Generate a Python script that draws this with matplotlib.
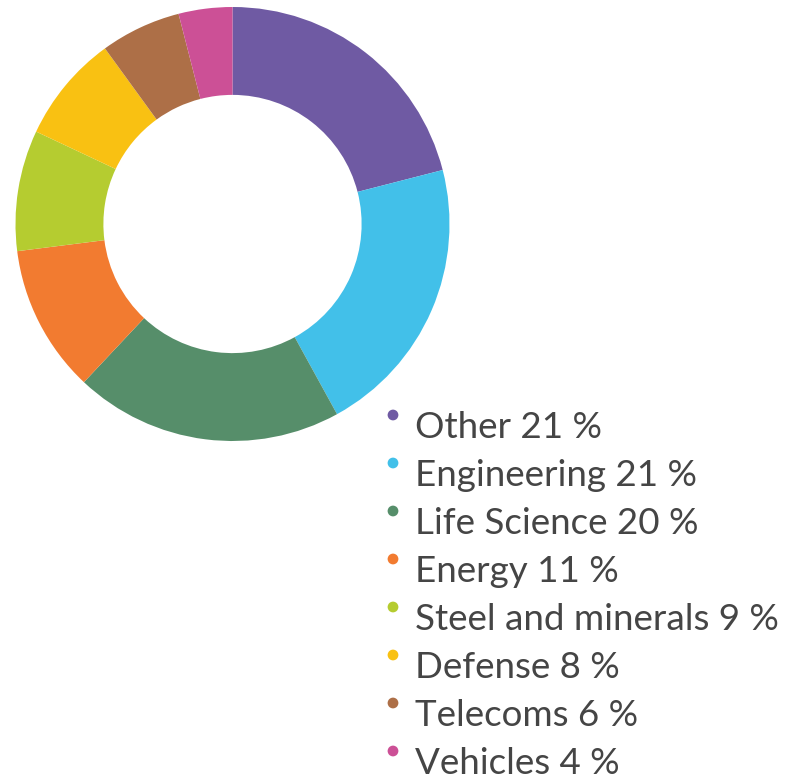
import matplotlib
matplotlib.use("Agg")
import matplotlib.pyplot as plt

categories = ["Other", "Engineering", "Life Science", "Energy",
              "Steel and minerals", "Defense", "Telecoms", "Vehicles"]
values = [21, 21, 20, 11, 9, 8, 6, 4]
colors = ["#6f5aa3", "#42c0e9", "#568e6a", "#f27b30",
          "#b5cc30", "#f9c112", "#ad6f47", "#cc5096"]

W, H = 792, 778
fig = plt.figure(figsize=(W / 100, H / 100), dpi=100)

cx, cy, r = 232.5, 224, 217
ax = fig.add_axes([(cx - r) / W, (H - cy - r) / H, 2 * r / W, 2 * r / H])
ax.pie(values, colors=colors, startangle=90, counterclock=False,
       radius=1, wedgeprops=dict(width=0.405, edgecolor="none"))
ax.set_xlim(-1, 1)
ax.set_ylim(-1, 1)
ax.set_aspect("equal")
ax.axis("off")

lax = fig.add_axes([0, 0, 1, 1])
lax.set_xlim(0, W)
lax.set_ylim(H, 0)
lax.axis("off")
y0, dy = 415, 48
for i, (c, v, col) in enumerate(zip(categories, values, colors)):
    y = y0 + i * dy
    lax.scatter([393], [y], s=60, color=col, edgecolors="none")
    lax.text(415, y + 23, f"{c} {v} %", fontsize=26.5, family="Lato",
             fontweight="normal", color="#454545", va="baseline", ha="left")

fig.savefig("out.png", dpi=100)
